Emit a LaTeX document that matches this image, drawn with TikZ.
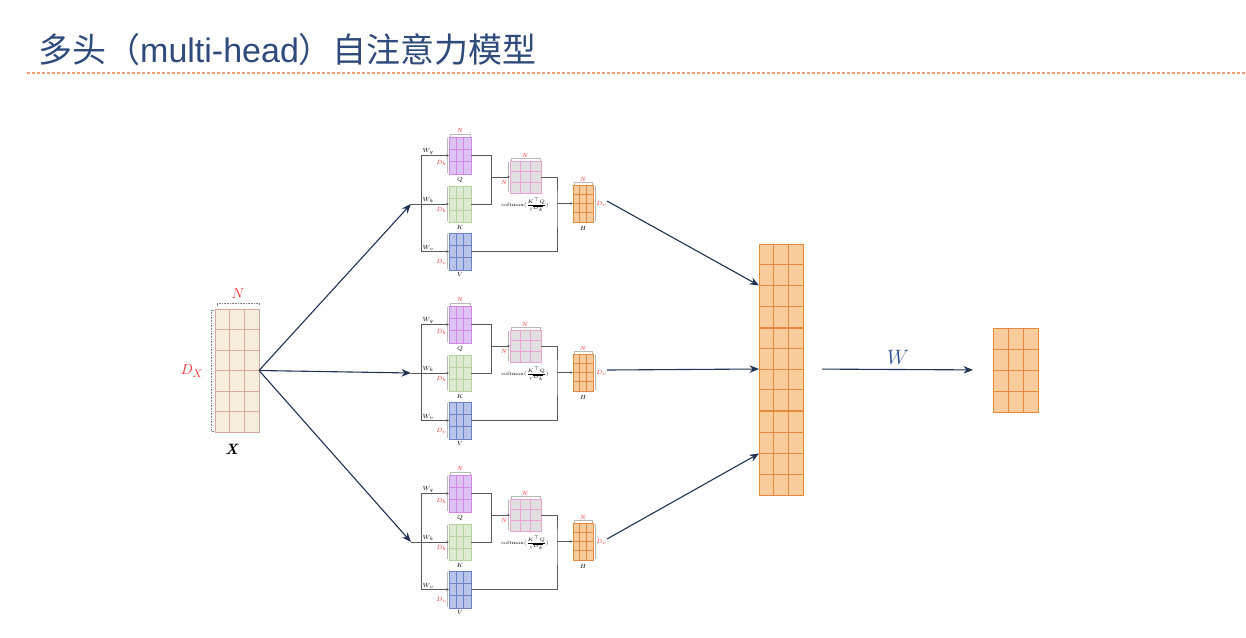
\documentclass[tikz,border=0pt]{standalone}
\usepackage{fontspec}
\usepackage{amsmath}
\newfontfamily\cjk{Noto Sans CJK SC}
\newfontfamily\lsans{Liberation Sans}
\usetikzlibrary{arrows.meta}
\definecolor{titleblue}{HTML}{2F4B7C}
\definecolor{dashor}{HTML}{F19C74}
\definecolor{navy}{HTML}{1F3354}
\definecolor{labred}{HTML}{FF2A2A}
\definecolor{wblue}{HTML}{2E5597}
\definecolor{wiregray}{HTML}{5A5A5A}
\definecolor{brkgray}{HTML}{B8B8B8}
\definecolor{qfill}{HTML}{DCC3F3}
\definecolor{qline}{HTML}{D486E4}
\definecolor{kfill}{HTML}{DCEBD2}
\definecolor{kline}{HTML}{B5D3A0}
\definecolor{vfill}{HTML}{B8C4E8}
\definecolor{vline}{HTML}{6C80C8}
\definecolor{afill}{HTML}{E0E0E0}
\definecolor{aline}{HTML}{EBA3D6}
\definecolor{hfill}{HTML}{F8CB9A}
\definecolor{hline}{HTML}{E08A40}
\definecolor{xfill}{HTML}{F6EEDD}
\definecolor{xline}{HTML}{D6A99A}
\definecolor{sfill}{HTML}{F9CD9B}
\definecolor{sline}{HTML}{E68A3E}
\newcommand\gridmat[9]{%
  \node[draw=#9, fill=#8, line width=0.6pt, minimum width=#4pt, minimum height=#5pt,
        inner sep=0pt, outer sep=0pt, anchor=north west] (#1) at (#2,#3) {};
  \pgfmathtruncatemacro\gmc{#6-1}%
  \pgfmathtruncatemacro\gmr{#7-1}%
  \foreach \i in {1,...,\gmc} {\draw[#9, line width=0.6pt] (#2+\i*#4/#6,#3) -- (#2+\i*#4/#6,#3+#5);}
  \foreach \j in {1,...,\gmr} {\draw[#9, line width=0.6pt] (#2,#3+\j*#5/#7) -- (#2+#4,#3+\j*#5/#7);}
}
\tikzset{
  redlab/.style={text=labred, inner sep=0pt, font=\fontsize{6.5}{7}\selectfont},
  blab/.style={text=black, inner sep=0pt, font=\fontsize{6.5}{7}\selectfont},
  wire/.style={draw=wiregray, line width=0.5pt},
  warr/.style={wire, -{Stealth[length=2.8pt,width=2.4pt]}},
  brk/.style={draw=brkgray, line width=0.4pt},
  bigarr/.style={draw=navy, line width=1.1pt, -{Stealth[length=9.5pt,width=7.5pt]}},
}
\newcommand\headblock[2]{%
\begin{scope}[shift={(0,#2)}]
  \coordinate (#1in) at (411,204);
  \coordinate (#1vt) at (421,155.5);
  \coordinate (#1vb) at (421,251.5);
  \coordinate (#1jq) at (491,177);
  \coordinate (#1jh) at (557,203.5);
  \coordinate (#1out) at (607,201);
  \gridmat{#1Q}{449}{137}{22}{37}{3}{3}{qfill}{qline}
  \gridmat{#1K}{449}{186}{22}{36}{3}{3}{kfill}{kline}
  \gridmat{#1V}{449}{233}{22}{37}{3}{3}{vfill}{vline}
  \gridmat{#1A}{510}{161}{31}{32}{3}{3}{afill}{aline}
  \gridmat{#1H}{573}{185}{20}{37}{3}{4}{hfill}{hline}
  % brackets
  \draw[brk] (450,137) -- (450,134.5) -- (470,134.5) -- (470,137);
  \draw[brk] (511,161) -- (511,158.5) -- (540,158.5) -- (540,161);
  \draw[brk] (574,185) -- (574,182.5) -- (592,182.5) -- (592,185);
  \draw[brk] (447.5,138) -- (447.5,173);
  \draw[brk] (447.5,187) -- (447.5,221);
  \draw[brk] (447.5,234) -- (447.5,269);
  \draw[brk] (508.5,162) -- (508.5,192);
  \draw[brk] (595,186) -- (595,221);
  % wires
  \draw[wire] (#1vt) -- (#1vb);
  \draw[warr] (#1vt) -- (#1vt -| #1Q.west);
  \draw[warr] (#1in) -- (#1in -| #1K.west);
  \draw[warr] (#1vb) -- (#1vb -| #1V.west);
  \draw[wire] (#1Q.east) -- ++(20,0) |- (#1K.east);
  \draw[warr] (#1jq) -- (#1jq -| #1A.west);
  \draw[wire] (#1A.east) -| (#1jh) |- (#1V.east);
  \draw[warr] (#1jh) -- (#1jh -| #1H.west);
  % labels
  \node[blab, anchor=south west] at (422.5,154.5) {$W_q$};
  \node[blab, anchor=south west] at (422.5,203) {$W_k$};
  \node[blab, anchor=south west] at (422.5,250.5) {$W_v$};
  \node[redlab] at (460,130.5) {$N$};
  \node[redlab] at (441.5,163) {$D_k$};
  \node[redlab] at (441.5,210) {$D_k$};
  \node[redlab] at (441.5,262) {$D_v$};
  \node[blab] at (460,180.5) {$Q$};
  \node[blab] at (460,227.5) {$K$};
  \node[blab] at (460,274.5) {$V$};
  \node[redlab] at (525,155) {$N$};
  \node[redlab] at (504,182) {$N$};
  \node[blab, font=\fontsize{4.8}{5}\selectfont] at (525,205) {softmax$\bigl(\frac{K^{\top}Q}{\sqrt{D_k}}\bigr)$};
  \node[redlab] at (583,179) {$N$};
  \node[redlab] at (601.5,204) {$D_v$};
  \node[blab] at (583,228.5) {$H$};
\end{scope}}
\begin{document}
\begin{tikzpicture}[x=1pt,y=-1pt]
\useasboundingbox (0,0) rectangle (1246,637);
\fill[white] (0,0) rectangle (1246,637);
% title
\node[anchor=base west, inner sep=0pt, text=titleblue, font=\fontsize{34}{40}\selectfont] (title) at (38,62)
  {{\cjk 多头（}{\lsans multi-head}{\cjk ）自注意力模型}};
\draw[draw=dashor, line width=1.1pt, dash pattern=on 3pt off 2pt] (27,73) coordinate (dl) -- (1246,73) coordinate (dr);
% X
\gridmat{X}{215}{309}{44}{123}{3}{6}{xfill}{xline}
\draw[gray, densely dotted, line width=0.6pt] (217,306) -- (217,303) -- (259,303) -- (259,306);
\draw[gray, densely dotted, line width=0.6pt] (214,310) -- (211,310) -- (211,431) -- (214,431);
\node[text=labred, inner sep=0pt, font=\fontsize{15}{16}\selectfont] at (238,294) {$N$};
\node[text=labred, inner sep=0pt, font=\fontsize{15}{16}\selectfont] at (192,371) {$D_X$};
\node[inner sep=0pt, font=\fontsize{15}{16}\selectfont] at (232,449) {\textbf{\textit{X}}};
% heads
\headblock{a}{0}
\headblock{b}{169}
\headblock{c}{338}
% stack
\gridmat{S1}{759}{244}{44}{83}{3}{4}{sfill}{sline}
\gridmat{S2}{759}{328}{44}{82}{3}{4}{sfill}{sline}
\gridmat{S3}{759}{411.5}{44}{84}{3}{4}{sfill}{sline}
\gridmat{O}{993}{328}{45}{84}{3}{4}{sfill}{sline}
% big arrows
\draw[bigarr] (X.east) -- (ain);
\draw[bigarr] (X.east) -- (bin);
\draw[bigarr] (X.east) -- (cin);
\draw[bigarr] (aout) -- (S1.west);
\draw[bigarr] (bout) -- (S2.west);
\draw[bigarr] (cout) -- (S3.west);
\draw[bigarr, shorten <=19pt, shorten >=20pt] (S2.east) -- (O.west)
  node[midway, above=1pt, text=wblue, font=\fontsize{20}{22}\selectfont] {$W$};
\end{tikzpicture}
\end{document}
